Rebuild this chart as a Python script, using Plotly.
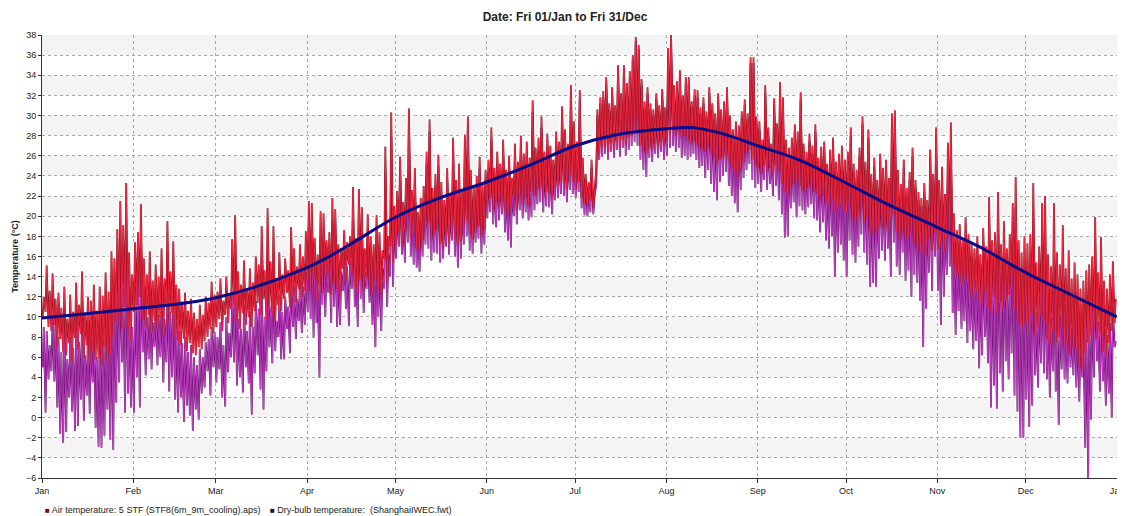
import pandas as pd
import plotly.graph_objects as go

# ---------------- text ----------------
TITLE = "Date: Fri 01/Jan to Fri 31/Dec"
Y_TITLE = "Temperature (°C)"
AIR_NAME = "Air temperature: 5 STF (STF8(6m_9m_cooling).aps)"
DRY_NAME = "Dry-bulb temperature:  (ShanghaiIWEC.fwt)"

month_ticks = ["2021-01-01", "2021-02-01", "2021-03-01", "2021-04-01", "2021-05-01",
               "2021-06-01", "2021-07-01", "2021-08-01", "2021-09-01", "2021-10-01",
               "2021-11-01", "2021-12-01", "2022-01-01"]
month_labels = ["Jan", "Feb", "Mar", "Apr", "May", "Jun", "Jul", "Aug", "Sep", "Oct",
                "Nov", "Dec", "Jan"]
y_ticks = [-6, -4, -2, 0, 2, 4, 6, 8, 10, 12, 14, 16, 18, 20, 22, 24, 26, 28, 30, 32, 34, 36, 38]
days_in_month = [31, 28, 31, 30, 31, 30, 31, 31, 30, 31, 30, 31]

# ---------------- data: daily highs / lows ----------------
air_hi_m = [
    [12.0, 15.1, 12.6, 14.3, 11.8, 12.4, 10.9, 13.0, 9.8, 12.2, 10.5, 13.4, 11.2, 14.5, 10.4, 12.0, 11.6, 13.2, 10.6, 13.0, 12.1, 14.4, 12.5, 16.5, 15.8, 18.7, 21.5, 19.1, 23.3, 16.4, 14.2],
    [17.4, 18.4, 21.2, 15.8, 14.2, 16.5, 13.6, 15.2, 14.0, 16.8, 13.8, 19.5, 14.5, 17.5, 13.2, 12.8, 11.5, 12.4, 10.6, 11.8, 10.4, 9.8, 11.2, 10.2, 12.0, 11.4, 13.5, 12.2],
    [12.5, 13.8, 11.6, 14.0, 12.2, 17.7, 20.1, 14.5, 13.2, 15.6, 12.8, 14.8, 13.4, 16.0, 15.2, 19.0, 14.6, 20.8, 15.5, 19.0, 13.8, 16.4, 14.2, 15.8, 14.6, 18.9, 16.8, 15.0, 17.2, 16.0, 18.5],
    [21.5, 21.3, 17.8, 16.2, 20.5, 20.3, 17.6, 18.4, 21.8, 20.7, 17.2, 16.8, 18.6, 17.4, 18.0, 22.9, 17.8, 22.7, 20.9, 16.8, 20.2, 18.0, 17.2, 20.1, 18.4, 16.6, 26.9, 18.0, 30.3, 21.0],
    [22.5, 25.9, 21.4, 23.8, 30.7, 22.6, 24.8, 20.4, 21.8, 23.0, 26.4, 29.6, 22.8, 24.2, 26.1, 23.4, 21.6, 24.8, 22.2, 27.8, 23.6, 25.2, 22.4, 28.1, 29.9, 24.6, 22.8, 24.0, 25.9, 23.2, 24.6],
    [25.6, 28.8, 24.8, 26.4, 25.2, 27.6, 24.6, 26.0, 23.8, 27.2, 25.4, 28.0, 26.2, 27.4, 25.8, 31.5, 26.8, 27.8, 29.9, 26.4, 28.2, 27.0, 25.6, 28.4, 27.4, 30.9, 28.6, 27.2, 33.0, 29.4],
    [27.4, 32.5, 25.8, 24.2, 23.4, 25.6, 22.8, 30.6, 31.8, 32.4, 33.8, 31.2, 32.8, 31.0, 35.0, 32.2, 35.0, 33.2, 34.4, 36.0, 37.8, 37.0, 33.6, 31.4, 32.8, 31.2, 30.6, 32.2, 31.0, 32.6, 30.8],
    [36.7, 38.0, 33.0, 33.4, 34.5, 32.0, 33.8, 33.8, 31.4, 32.6, 32.5, 30.8, 31.8, 30.4, 32.8, 31.2, 30.2, 32.2, 30.6, 31.4, 32.8, 30.0, 28.6, 29.4, 29.0, 30.4, 31.6, 30.2, 35.8, 35.8, 29.9],
    [29.4, 27.6, 33.0, 28.8, 27.2, 31.7, 29.2, 33.3, 31.8, 27.6, 26.8, 27.8, 29.1, 28.4, 32.3, 27.2, 26.4, 28.2, 27.0, 29.1, 25.8, 26.9, 27.4, 25.2, 26.6, 27.8, 25.4, 26.2, 27.0, 25.6],
    [26.4, 28.8, 25.2, 24.6, 26.8, 29.9, 25.4, 28.6, 24.2, 25.8, 23.6, 26.2, 24.8, 25.6, 23.8, 30.2, 30.5, 24.6, 23.2, 25.6, 22.8, 24.4, 26.8, 23.6, 22.4, 21.8, 23.3, 21.6, 26.6, 24.2, 28.8],
    [23.6, 24.9, 22.2, 27.3, 29.3, 20.3, 18.6, 19.2, 17.8, 19.9, 18.2, 17.4, 16.8, 18.0, 16.2, 18.8, 17.0, 21.9, 17.6, 18.4, 22.4, 17.2, 19.5, 16.8, 18.2, 21.3, 23.9, 17.6, 16.4, 18.0],
    [17.3, 18.2, 23.3, 15.4, 17.0, 21.3, 22.0, 16.2, 15.0, 21.3, 16.4, 15.2, 19.1, 14.8, 16.6, 13.8, 15.4, 14.2, 12.8, 13.6, 14.6, 15.2, 16.0, 19.9, 14.4, 17.9, 13.6, 12.8, 14.2, 15.5, 11.8],
]
air_lo_m = [
    [9.8, 10.5, 9.0, 8.6, 9.2, 7.0, 7.8, 6.5, 6.2, 7.4, 5.6, 7.9, 6.8, 8.3, 6.0, 7.2, 5.3, 6.6, 5.8, 6.0, 5.2, 7.0, 5.5, 6.4, 8.0, 9.5, 10.2, 8.8, 11.0, 9.0, 7.6],
    [10.5, 11.2, 12.0, 9.8, 9.0, 10.2, 8.4, 9.6, 8.8, 10.0, 8.2, 11.0, 9.2, 10.4, 8.0, 7.6, 7.2, 7.8, 6.6, 7.4, 6.4, 6.2, 7.0, 6.8, 7.6, 8.0, 8.8, 8.4],
    [9.0, 9.8, 8.6, 10.2, 9.4, 10.8, 11.2, 9.6, 8.8, 10.4, 9.2, 10.0, 9.0, 10.6, 11.4, 10.2, 11.8, 9.8, 11.0, 10.4, 9.6, 11.2, 10.6, 11.8, 12.4, 11.0, 12.2, 11.4, 12.8, 12.0, 12.6],
    [13.5, 12.6, 13.8, 11.8, 13.2, 12.4, 14.0, 14.6, 12.2, 13.4, 12.8, 12.0, 14.8, 13.6, 15.2, 14.4, 13.0, 12.4, 13.8, 12.6, 14.2, 13.0, 12.4, 13.6, 12.8, 12.2, 15.8, 13.4, 17.0, 15.4],
    [17.2, 18.4, 17.0, 18.6, 19.8, 17.8, 18.4, 16.8, 16.6, 17.6, 18.8, 19.4, 17.8, 18.2, 18.6, 17.4, 16.8, 18.2, 17.4, 19.2, 17.8, 17.2, 17.6, 19.0, 19.6, 18.2, 17.8, 18.4, 19.0, 18.0, 18.6],
    [21.0, 21.8, 20.6, 21.4, 20.8, 21.6, 20.4, 20.2, 21.0, 21.8, 20.6, 22.0, 21.2, 21.8, 21.0, 22.4, 22.0, 22.6, 22.8, 21.8, 22.4, 22.2, 21.6, 22.8, 23.0, 23.4, 23.2, 22.6, 24.0, 23.4],
    [22.6, 23.4, 21.8, 21.2, 21.0, 21.6, 20.8, 24.8, 26.2, 26.8, 27.0, 26.4, 27.2, 26.6, 27.4, 26.8, 27.6, 27.0, 27.8, 28.0, 28.4, 28.2, 27.0, 26.4, 26.2, 26.8, 26.6, 27.2, 26.8, 27.4, 27.0],
    [27.6, 28.2, 28.6, 28.0, 28.4, 27.8, 28.0, 27.6, 27.2, 27.4, 27.0, 26.8, 26.6, 26.4, 26.8, 26.2, 25.8, 25.2, 25.6, 25.8, 26.0, 25.4, 24.8, 24.4, 23.8, 24.6, 25.4, 26.2, 26.6, 25.6, 25.0],
    [24.8, 24.2, 25.0, 24.4, 24.8, 24.2, 25.0, 24.4, 23.2, 22.4, 22.0, 22.8, 23.2, 23.6, 23.0, 22.6, 22.4, 22.8, 23.0, 22.4, 22.2, 21.6, 22.0, 21.4, 21.0, 21.6, 20.4, 20.8, 21.2, 20.6],
    [20.4, 21.0, 19.8, 19.2, 20.0, 20.6, 19.4, 19.8, 18.6, 18.2, 18.4, 19.0, 18.8, 19.2, 18.6, 19.8, 20.2, 18.4, 17.8, 18.6, 17.6, 18.0, 18.6, 17.4, 16.8, 16.4, 17.0, 16.2, 17.8, 16.6, 18.4],
    [16.8, 17.2, 16.4, 17.8, 18.6, 15.2, 13.8, 14.4, 13.2, 14.0, 13.4, 12.6, 12.0, 12.8, 11.6, 11.2, 12.4, 11.0, 10.6, 12.0, 10.4, 11.4, 10.8, 11.6, 12.2, 13.0, 10.8, 9.6, 9.2, 9.0],
    [9.6, 8.8, 10.4, 8.2, 9.0, 10.2, 9.6, 7.8, 7.2, 8.6, 7.4, 8.0, 8.8, 7.0, 7.6, 6.4, 7.2, 6.8, 5.2, 4.8, 6.4, 7.4, 8.2, 9.0, 7.8, 8.4, 6.6, 6.2, 7.4, 8.6, 9.4],
]
dry_hi_m = [
    [9.0, 8.6, 7.2, 10.0, 9.4, 8.0, 6.5, 9.3, 5.8, 8.0, 6.9, 9.8, 7.5, 10.5, 6.2, 8.4, 7.8, 9.5, 6.0, 9.1, 7.8, 10.2, 8.7, 12.0, 11.5, 13.5, 15.0, 12.8, 15.8, 11.0, 9.0],
    [13.0, 14.5, 15.5, 11.5, 10.0, 12.2, 9.5, 11.0, 10.2, 12.5, 9.8, 14.0, 10.5, 12.6, 9.5, 8.6, 7.4, 8.0, 6.5, 7.2, 6.0, 5.2, 6.8, 6.0, 7.5, 7.8, 9.0, 8.5],
    [8.0, 9.5, 7.2, 10.0, 8.4, 12.5, 14.2, 9.8, 8.8, 11.2, 8.6, 10.5, 9.0, 11.6, 10.8, 13.5, 10.0, 14.5, 11.0, 13.8, 9.6, 12.2, 10.5, 12.0, 11.0, 14.2, 13.0, 11.8, 13.6, 13.0, 14.5],
    [19.0, 18.8, 15.4, 13.8, 18.0, 17.8, 15.2, 16.0, 19.4, 18.2, 14.8, 14.4, 16.2, 15.0, 15.6, 20.4, 15.4, 20.3, 18.5, 14.5, 17.8, 15.6, 14.9, 18.0, 16.2, 14.8, 24.5, 16.2, 28.0, 19.5],
    [21.0, 24.6, 20.0, 22.4, 29.8, 21.2, 23.4, 19.2, 20.2, 21.8, 25.2, 28.4, 21.4, 23.0, 25.0, 22.0, 20.4, 23.6, 21.0, 26.6, 22.4, 24.0, 21.2, 27.0, 28.8, 23.4, 21.6, 22.8, 24.8, 22.0, 23.4],
    [24.4, 27.6, 23.6, 25.2, 24.0, 26.4, 23.4, 24.8, 22.6, 26.0, 24.2, 26.8, 25.0, 26.2, 24.6, 30.4, 25.6, 26.6, 28.8, 25.2, 27.0, 25.8, 24.4, 27.2, 26.2, 29.8, 27.4, 26.0, 32.0, 28.4],
    [26.6, 31.6, 25.0, 23.6, 22.6, 24.8, 22.0, 30.0, 31.2, 31.8, 33.2, 30.6, 32.2, 30.4, 34.4, 31.6, 34.6, 32.6, 33.8, 35.6, 37.4, 36.6, 33.0, 30.8, 32.2, 30.6, 30.0, 31.6, 30.4, 32.0, 30.2],
    [36.2, 37.6, 32.4, 32.8, 34.0, 31.4, 33.2, 33.2, 30.8, 32.0, 31.8, 30.2, 31.2, 29.8, 32.2, 30.6, 29.6, 31.6, 30.0, 30.8, 32.2, 29.4, 28.0, 28.8, 28.4, 29.8, 31.0, 29.6, 35.2, 35.2, 29.2],
    [28.6, 26.8, 32.2, 28.0, 26.4, 31.0, 28.4, 32.6, 31.0, 26.8, 26.0, 27.0, 28.4, 27.6, 31.6, 26.4, 25.6, 27.4, 26.2, 28.4, 25.0, 26.0, 26.6, 24.4, 25.8, 27.0, 24.6, 25.4, 26.2, 24.8],
    [25.6, 28.0, 24.4, 23.8, 26.0, 29.2, 24.6, 27.8, 23.4, 25.0, 22.8, 25.4, 24.0, 24.8, 23.0, 29.6, 29.8, 23.8, 22.4, 24.8, 22.0, 23.6, 26.0, 22.8, 21.6, 21.0, 22.4, 20.8, 25.8, 23.4, 28.0],
    [21.0, 22.4, 19.8, 24.6, 26.8, 18.0, 16.2, 16.8, 15.4, 17.6, 15.8, 15.0, 14.2, 15.6, 13.6, 16.4, 14.6, 19.4, 14.8, 15.6, 19.8, 14.4, 16.8, 14.0, 15.4, 18.4, 20.8, 14.6, 13.2, 14.8],
    [12.4, 12.8, 17.6, 10.4, 12.0, 15.8, 16.4, 11.2, 10.0, 15.6, 11.0, 10.2, 13.6, 9.8, 11.4, 8.8, 10.6, 9.4, 7.8, 8.6, 9.8, 10.4, 11.2, 14.6, 9.6, 12.8, 8.8, 8.2, 9.4, 11.0, 7.6],
]
dry_lo_m = [
    [5.0, 0.5, 3.8, 4.6, 3.6, 1.0, -1.6, -2.5, -1.4, 2.0, 0.6, -1.3, -0.8, 1.8, -0.3, 2.2, 0.4, 3.5, -1.0, -2.9, -3.0, -1.8, 0.8, -2.2, -3.2, 1.5, 3.5, 5.5, 0.5, 2.4, 1.0],
    [0.5, 4.0, 1.0, 6.5, 4.2, 5.8, 4.8, 7.0, 5.2, 6.0, 3.5, 5.5, 2.6, 4.0, 1.8, 0.5, 2.0, -0.4, 1.2, 0.2, -1.3, 0.8, -0.2, 2.4, 3.0, 4.6, 2.2, 5.0],
    [3.5, 4.8, 2.0, 1.1, 4.5, 6.0, 5.5, 3.2, 4.0, 2.5, 5.0, 3.4, 0.3, 4.4, 6.2, 2.8, 0.8, 4.6, 7.0, 5.4, 6.6, 8.0, 5.8, 5.8, 8.8, 6.4, 9.0, 7.8, 9.6, 8.4, 9.2],
    [10.5, 9.8, 8.0, 9.4, 4.0, 11.2, 10.0, 12.4, 9.4, 11.0, 9.0, 9.2, 12.6, 10.8, 9.1, 12.8, 11.0, 9.0, 11.8, 10.4, 12.8, 11.4, 9.2, 7.0, 10.0, 8.6, 12.8, 11.0, 14.0, 13.0],
    [15.8, 17.0, 16.2, 15.4, 17.4, 16.0, 15.2, 14.9, 14.5, 16.0, 17.2, 16.8, 15.6, 16.4, 16.3, 15.4, 15.8, 17.0, 16.2, 17.6, 16.0, 14.9, 15.8, 17.2, 18.0, 16.6, 16.3, 17.4, 17.8, 16.3, 17.2],
    [19.8, 20.4, 19.2, 18.9, 19.6, 20.2, 18.4, 17.6, 16.9, 20.0, 19.2, 20.6, 19.8, 20.4, 19.6, 19.9, 20.6, 21.2, 21.4, 20.4, 21.0, 20.9, 20.2, 21.6, 21.8, 22.2, 22.0, 21.4, 22.6, 22.2],
    [21.8, 22.4, 20.8, 20.1, 20.0, 20.4, 20.2, 23.2, 25.6, 25.9, 26.2, 25.6, 26.4, 25.8, 26.6, 25.9, 26.8, 26.0, 26.6, 27.0, 27.4, 27.0, 25.6, 24.6, 23.9, 25.8, 25.4, 26.2, 25.8, 26.4, 25.6],
    [26.0, 26.8, 27.0, 26.4, 26.8, 25.8, 26.0, 25.6, 25.9, 26.2, 25.6, 24.8, 25.0, 23.8, 24.6, 23.2, 22.4, 21.6, 23.4, 24.0, 24.4, 23.0, 22.0, 21.3, 20.4, 22.6, 23.8, 24.6, 25.2, 23.6, 22.8],
    [23.2, 22.4, 23.6, 22.6, 23.2, 22.0, 23.0, 21.6, 20.2, 17.9, 18.0, 20.8, 21.4, 19.9, 21.0, 20.6, 20.2, 20.9, 21.2, 19.8, 19.6, 18.4, 19.4, 17.6, 16.8, 18.0, 14.0, 16.4, 17.2, 15.6],
    [14.0, 17.6, 16.2, 15.4, 17.0, 18.2, 16.4, 15.2, 13.0, 13.4, 13.0, 15.8, 16.6, 15.6, 16.8, 14.0, 17.4, 15.0, 14.2, 16.4, 13.6, 14.6, 12.0, 14.2, 13.4, 11.6, 7.0, 10.8, 14.4, 12.6, 16.0],
    [12.6, 9.2, 12.0, 14.2, 15.0, 10.4, 8.2, 10.6, 8.8, 9.6, 7.4, 8.6, 6.8, 7.6, 4.9, 6.2, 8.0, 5.4, 1.0, 3.2, 0.9, 4.4, 2.6, 5.6, 3.8, 6.4, 2.2, 0.6, -2.0, -2.0],
    [1.8, -0.9, 1.2, 4.2, 3.0, 5.4, 4.4, 3.8, 2.0, 4.6, 2.6, -0.7, 4.8, 3.8, 3.4, 5.0, 4.2, 3.0, 1.6, 4.0, -3.0, -6.0, -0.2, 4.0, 5.6, 2.6, 3.6, 1.2, 2.4, 0.0, 7.0],
]

# smooth blue curve (read at roughly half-month points)
trend_dates = ["2021-01-01", "2021-02-01", "2021-03-01", "2021-04-01", "2021-04-15",
               "2021-05-01", "2021-05-15", "2021-06-01", "2021-06-15", "2021-07-01",
               "2021-07-15", "2021-08-01", "2021-08-10", "2021-08-20", "2021-09-01",
               "2021-09-15", "2021-10-01", "2021-10-15", "2021-11-01", "2021-11-15",
               "2021-12-01", "2021-12-15", "2021-12-31T23:00:00"]
trend_vals = [9.9, 10.8, 11.9, 14.9, 17.1, 19.9, 21.7, 23.4, 25.0, 27.0, 28.1, 28.7, 28.8,
              28.2, 27.0, 25.6, 23.3, 21.2, 18.9, 17.0, 14.4, 12.4, 10.0]

# ---------------- assemble ----------------
def flatten(by_month, name):
    out = []
    for i, m in enumerate(by_month):
        assert len(m) == days_in_month[i], (name, i + 1, len(m))
        out.extend(m)
    return out

air_hi = flatten(air_hi_m, "air_hi")
air_lo = flatten(air_lo_m, "air_lo")
dry_hi = flatten(dry_hi_m, "dry_hi")
dry_lo = flatten(dry_lo_m, "dry_lo")

days = pd.date_range("2021-01-01", "2021-12-31", freq="D")
xs, air, dry = [], [], []
for d, alo, ahi, dlo, dhi in zip(days, air_lo, air_hi, dry_lo, dry_hi):
    xs += [d + pd.Timedelta(hours=5), d + pd.Timedelta(hours=14)]
    air += [alo, ahi]
    dry += [dlo, dhi]

FONT = "Liberation Sans, Arial, sans-serif"
AIR_DARK, AIR_LIGHT, AIR_KEY = "#8a0c1a", "#fa2a44", "#7a0c0c"
DRY_DARK, DRY_LIGHT, DRY_KEY = "#5a0a60", "#c844ca", "#2e0630"

fig = go.Figure()
# white halo under the data
for ys in (dry, air):
    fig.add_trace(go.Scatter(x=xs, y=ys, mode="lines", line=dict(color="white", width=5),
                             showlegend=False, hoverinfo="skip"))
# dry-bulb (purple)
fig.add_trace(go.Scatter(x=xs, y=dry, mode="lines", line=dict(color=DRY_DARK, width=1.8),
                         showlegend=False, hoverinfo="skip"))
fig.add_trace(go.Scatter(x=xs, y=dry, mode="lines", line=dict(color=DRY_LIGHT, width=0.9),
                         showlegend=False, name=DRY_NAME))
# air temperature (red)
fig.add_trace(go.Scatter(x=xs, y=air, mode="lines", line=dict(color=AIR_DARK, width=1.8),
                         showlegend=False, hoverinfo="skip"))
fig.add_trace(go.Scatter(x=xs, y=air, mode="lines", line=dict(color=AIR_LIGHT, width=0.9),
                         showlegend=False, name=AIR_NAME))
# trend
fig.add_trace(go.Scatter(x=pd.to_datetime(trend_dates, format="ISO8601"), y=trend_vals,
                         mode="lines", line=dict(color="#0a0a8a", width=3, shape="spline"),
                         showlegend=False))

# alternating background bands
shapes = []
for lo in range(-4, 38, 4):
    shapes.append(dict(type="rect", xref="paper", x0=0, x1=1, yref="y", y0=lo, y1=lo + 2,
                       fillcolor="#f4f4f4", line=dict(width=0), layer="below"))

# The page body has an 8px margin, so the figure is sized/offset to compensate.
FIG_W, FIG_H = 1117, 508
M_L, M_R, M_T, M_B = 34, 8, 27, 38
PLOT_W = FIG_W - M_L - M_R
PLOT_H = FIG_H - M_T - M_B

legend_items = [(AIR_KEY, AIR_NAME, 43), (DRY_KEY, DRY_NAME, 268)]
annotations = []
for color, name, px in legend_items:
    annotations.append(dict(
        text='<span style="color:%s;font-size:8px">■</span> %s' % (color, name),
        xref="paper", yref="paper", x=(px - 42) / PLOT_W, y=-(510 - 478) / PLOT_H,
        xanchor="left", yanchor="middle", showarrow=False,
        font=dict(size=9, family=FONT, color="#222222")))

fig.update_layout(
    width=FIG_W, height=FIG_H,
    margin=dict(l=M_L, r=M_R, t=M_T, b=M_B, autoexpand=False),
    paper_bgcolor="white", plot_bgcolor="white",
    font=dict(family=FONT, size=9, color="#222222"),
    title=dict(text="<b>" + TITLE + "</b>", x=(565 - 8) / FIG_W, xref="container",
               xanchor="center", y=1 - 9 / FIG_H, yref="container", yanchor="middle",
               font=dict(size=12, color="#222222", family=FONT)),
    shapes=shapes,
    annotations=annotations,
    showlegend=False,
    xaxis=dict(type="date", range=["2021-01-01", "2022-01-01"],
               tickvals=month_ticks, ticktext=month_labels,
               showgrid=True, gridcolor="#a8a8a8", griddash="dot", gridwidth=1,
               showline=True, linecolor="#333333", linewidth=1,
               ticks="outside", ticklen=4, tickcolor="#333333",
               tickfont=dict(size=9), zeroline=False),
    yaxis=dict(range=[-6, 38], tickvals=y_ticks,
               showgrid=True, gridcolor="#a8a8a8", griddash="dot", gridwidth=1,
               showline=True, linecolor="#333333", linewidth=1,
               ticks="outside", ticklen=3, tickcolor="#333333",
               tickfont=dict(size=9), zeroline=False,
               title=dict(text="<b>" + Y_TITLE + "</b>", font=dict(size=9), standoff=5)),
)

fig.write_html("out.html")
